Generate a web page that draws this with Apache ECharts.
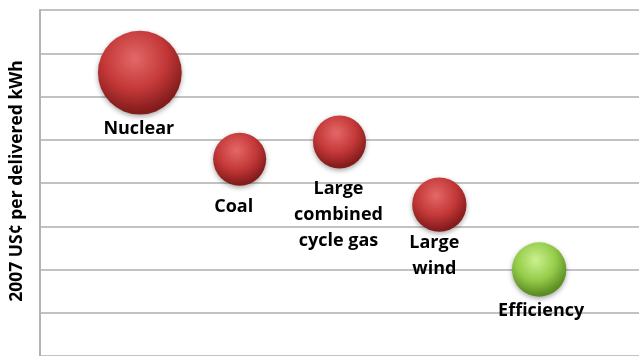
<!DOCTYPE html>
<html>
<head>
<meta charset="utf-8">
<script src="https://cdn.jsdelivr.net/npm/echarts@6/dist/echarts.min.js"></script>
<style>
  html, body { margin: 0; padding: 0; background: #ffffff; }
  #chart { width: 639px; height: 356px; }
</style>
</head>
<body>
<div id="chart"></div>
<script>
// Cost of delivered electricity by resource (bubble area = relative scale)
const technologies = ['Nuclear', 'Coal', 'Large combined cycle gas', 'Large wind', 'Efficiency'];
const labelText = ['Nuclear', 'Coal', 'Large\ncombined\ncycle gas', 'Large\nwind', 'Efficiency'];
const xOrder = [1, 2, 3, 4, 5];
const costCents = [13.1, 9.1, 9.9, 7.0, 4.0];
const bubbleWeight = [2.5, 1.0, 1.0, 1.05, 1.05];
const yTicks = [0, 2, 4, 6, 8, 10, 12, 14, 16];
const yTitle = '2007 US¢ per delivered kWh';

// Label placement tweaks per resource (pixels)
const labelPlacement = {
  'Nuclear': { distance: 1, dx: -1 },
  'Coal': { distance: 8, dx: -6 },
  'Large combined cycle gas': { distance: 7, dx: -1 },
  'Large wind': { distance: -2, dx: -5 },
  'Efficiency': { distance: 1, dx: 2 }
};

function sphere(light, mid, dark) {
  return {
    type: 'radial', x: 0.44, y: 0.33, r: 0.74,
    colorStops: [
      { offset: 0, color: light },
      { offset: 0.5, color: mid },
      { offset: 0.86, color: dark },
      { offset: 1, color: dark }
    ]
  };
}
const redBall = sphere('#e46868', '#c43838', '#841c1c');
const greenBall = sphere('#ccf090', '#94cc48', '#5c8c24');

const labelFont = {
  fontFamily: 'Open Sans',
  fontWeight: 'bold',
  fontSize: 18,
  lineHeight: 26,
  color: '#000000',
  opacity: 1,
  align: 'center'
};

const points = technologies.map((name, i) => {
  const p = labelPlacement[name];
  return {
    name: name,
    value: [xOrder[i], costCents[i], bubbleWeight[i]],
    itemStyle: { color: name === 'Efficiency' ? greenBall : redBall, opacity: 1 },
    label: Object.assign({
      show: true, position: 'bottom',
      distance: p.distance, offset: [p.dx, 0], formatter: labelText[i]
    }, labelFont)
  };
});

const chart = echarts.init(document.getElementById('chart'), null, { renderer: 'canvas' });
chart.setOption({
  animation: false,
  backgroundColor: '#ffffff',
  grid: { left: 40, right: -4, top: 10, bottom: -4, containLabel: false },
  xAxis: {
    type: 'value', min: 0, max: 6, interval: 1,
    show: false
  },
  yAxis: {
    type: 'value', min: yTicks[0], max: yTicks[yTicks.length - 1], interval: yTicks[1] - yTicks[0],
    axisLine: { show: true, lineStyle: { color: '#b2b2b2', width: 2 } },
    axisTick: { show: false },
    axisLabel: { show: false },
    splitLine: { show: true, lineStyle: { color: '#c2c2c2', width: 2 } }
  },
  graphic: [{
    type: 'text',
    x: 17,
    y: 181,
    rotation: Math.PI / 2,
    style: {
      text: yTitle,
      fontFamily: 'Open Sans',
      fontWeight: 'bold',
      fontSize: 17.5,
      fill: '#000000',
      align: 'center',
      verticalAlign: 'middle'
    }
  }],
  series: [{
    type: 'scatter',
    data: points,
    symbol: 'circle',
    symbolSize: v => Math.sqrt(v[2]) * 53,
    itemStyle: {
      opacity: 1,
      shadowBlur: 5,
      shadowColor: 'rgba(0,0,0,0.35)',
      shadowOffsetY: 2
    },
    emphasis: { disabled: true },
    label: Object.assign({ show: true, position: 'bottom' }, labelFont)
  }]
});
</script>
</body>
</html>
